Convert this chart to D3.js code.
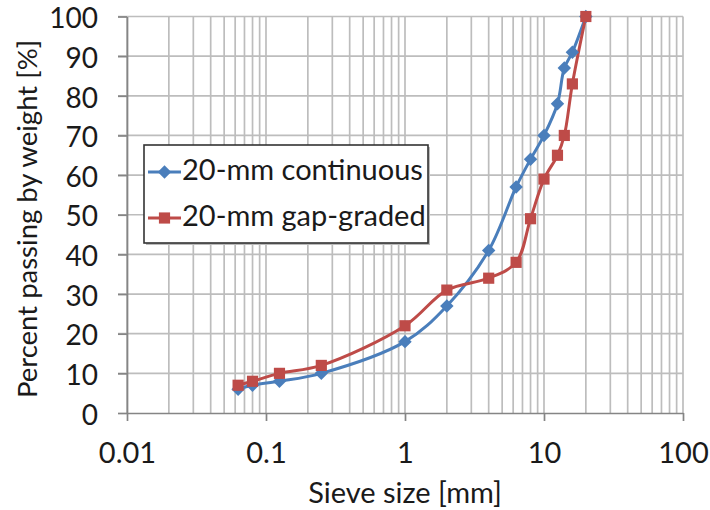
<!DOCTYPE html>
<html>
<head>
<meta charset="utf-8">
<script src="https://cdn.jsdelivr.net/npm/d3@7"></script>
<style>
  html, body { margin: 0; padding: 0; background: #fff; }
  svg { display: block; }
  text { font-family: Lato, "Open Sans", sans-serif; fill: #1a1a1a; }
</style>
</head>
<body>
<svg id="chart" width="710" height="510"></svg>
<script>
// ---- data ----
const sieveSizes = [0.063, 0.08, 0.125, 0.25, 1, 2, 4, 6.3, 8, 10, 12.5, 14, 16, 20];
const continuous = [6, 7, 8, 10, 18, 27, 41, 57, 64, 70, 78, 87, 91, 100];
const gapGraded  = [7, 8, 10, 12, 22, 31, 34, 38, 49, 59, 65, 70, 83, 100];
const seriesNames = ["20-mm continuous", "20-mm gap-graded"];
const xTickLabels = ["0.01", "0.1", "1", "10", "100"];
const yTickValues = [0, 10, 20, 30, 40, 50, 60, 70, 80, 90, 100];
const xTitle = "Sieve size [mm]";
const yTitle = "Percent passing by weight [%]";

const blue = "#4a7ebb", red = "#be4b48";
const svg = d3.select("#chart");

const L = 127, R = 683, T = 16.5, B = 413;
const x = d3.scaleLog().domain([0.01, 100]).range([L, R]);
const y = d3.scaleLinear().domain([0, 100]).range([B, T]);

const gridColor = "#bdbdbd";
const axisColor = "#858585";

// vertical grid (major + minor) from log ticks
const g = svg.append("g");
x.ticks().forEach(t => {
  g.append("line").attr("x1", x(t)).attr("x2", x(t)).attr("y1", T).attr("y2", B)
    .attr("stroke", gridColor).attr("stroke-width", 1.7);
});
// horizontal grid
yTickValues.forEach(v => {
  if (v === 0) return;
  g.append("line").attr("x1", L - 9).attr("x2", R).attr("y1", y(v)).attr("y2", y(v))
    .attr("stroke", gridColor).attr("stroke-width", 1.7);
});

// axes
const xAxis = d3.axisBottom(x).tickValues(xTickLabels.map(Number))
  .tickFormat((d, i) => xTickLabels[i]).tickSize(8).tickSizeOuter(0);
const xa = svg.append("g").attr("transform", `translate(0,${B})`).call(xAxis);
xa.select(".domain").attr("stroke", axisColor).attr("stroke-width", 1.7);
xa.selectAll(".tick line").attr("stroke", axisColor).attr("stroke-width", 1.7);
xa.selectAll(".tick text").attr("font-size", 29).attr("dy", null).attr("y", 50)
  .attr("font-family", "Lato").attr("fill", "#1a1a1a");

const yAxis = d3.axisLeft(y).tickValues(yTickValues).tickSize(9).tickSizeOuter(0);
const ya = svg.append("g").attr("transform", `translate(${L},0)`).call(yAxis);
ya.select(".domain").attr("stroke", axisColor).attr("stroke-width", 1.7);
ya.selectAll(".tick line").attr("stroke", axisColor).attr("stroke-width", 1.7);
ya.selectAll(".tick text").attr("font-size", 28).attr("x", -29).attr("dy", "0.4em")
  .attr("font-family", "Lato").attr("fill", "#1a1a1a");

// series
const line = d3.line().x(d => x(d[0])).y(d => y(d[1])).curve(d3.curveCatmullRom.alpha(0.5));
const s1 = sieveSizes.map((s, i) => [s, continuous[i]]);
const s2 = sieveSizes.map((s, i) => [s, gapGraded[i]]);

svg.append("path").datum(s1).attr("d", line).attr("fill", "none")
  .attr("stroke", blue).attr("stroke-width", 3);
svg.append("path").datum(s2).attr("d", line).attr("fill", "none")
  .attr("stroke", red).attr("stroke-width", 3);

const diamond = d3.symbol().type(d3.symbolDiamond2).size(115);
const square = d3.symbol().type(d3.symbolSquare).size(125);

svg.append("g").selectAll("path").data(s1).join("path")
  .attr("transform", d => `translate(${x(d[0])},${y(d[1])})`)
  .attr("d", diamond).attr("fill", blue);
svg.append("g").selectAll("path").data(s2).join("path")
  .attr("transform", d => `translate(${x(d[0])},${y(d[1])})`)
  .attr("d", square).attr("fill", red);

// legend
const lg = svg.append("g");
lg.append("rect").attr("x", 146).attr("y", 147).attr("width", 284).attr("height", 98)
  .attr("fill", "#bbb");
lg.append("rect").attr("x", 144).attr("y", 145).attr("width", 284).attr("height", 98)
  .attr("fill", "#fff").attr("stroke", "#333").attr("stroke-width", 1.6);
const legendItems = [
  { name: seriesNames[0], color: blue, sym: diamond, yy: 172 },
  { name: seriesNames[1], color: red, sym: square, yy: 218 }
];
legendItems.forEach(it => {
  lg.append("line").attr("x1", 148).attr("x2", 181).attr("y1", it.yy).attr("y2", it.yy)
    .attr("stroke", it.color).attr("stroke-width", 3);
  lg.append("path").attr("d", it.sym).attr("transform", `translate(164.5,${it.yy})`)
    .attr("fill", it.color);
  lg.append("text").attr("x", 182).attr("y", it.yy + 8).attr("font-size", 29)
    .text(it.name);
});

// axis titles
svg.append("text").attr("x", 405).attr("y", 503).attr("text-anchor", "middle")
  .attr("font-size", 29).text(xTitle);
svg.append("text").attr("transform", `translate(37,219) rotate(-90)`)
  .attr("text-anchor", "middle").attr("font-size", 27.5).text(yTitle);
</script>
</body>
</html>
